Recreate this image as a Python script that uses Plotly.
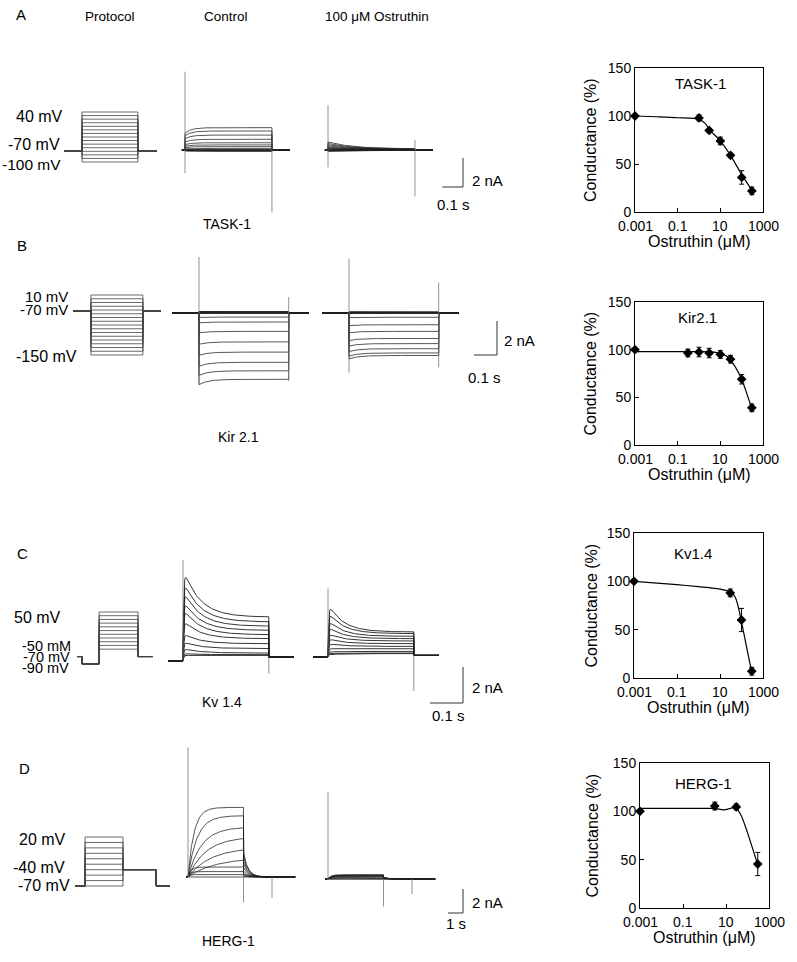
import numpy as np
import plotly.graph_objects as go

W, H = 797, 962
FONT = "Liberation Sans, Arial, sans-serif"

# ---------------- dose-response data ----------------
TASK1_CONC = [0.001, 1, 3, 10, 30, 100, 300]
TASK1_COND = [100, 98, 85, 74, 59, 36, 22]
TASK1_ERR = [0, 3, 2, 4, 2, 7, 4]
TASK1_FIT_CONC = [0.001, 0.01, 0.1, 1, 2, 3, 10, 30, 100, 300]
TASK1_FIT_COND = [100, 99.2, 98.2, 96.5, 92, 86, 74, 59, 39, 23]

KIR_CONC = [0.001, 0.3, 1, 3, 10, 30, 100, 300]
KIR_COND = [100, 96.5, 97.5, 96.5, 95, 90, 69, 39]
KIR_ERR = [0, 4, 5, 5, 4, 4, 5, 4]
KIR_FIT_CONC = [0.001, 0.1, 1, 5, 10, 20, 50, 100, 200, 300]
KIR_FIT_COND = [98, 98, 98, 97.5, 96, 93, 82, 69, 50, 38]

KV_CONC = [0.001, 30, 100, 300]
KV_COND = [100, 88, 60, 7]
KV_ERR = [0, 4, 12, 4]
KV_FIT_CONC = [0.001, 0.1, 1, 10, 30, 50, 70, 100, 200, 300]
KV_FIT_COND = [100, 96.5, 94.5, 92, 89, 84, 74, 58, 25, 6]

HERG_CONC = [0.001, 3, 30, 300]
HERG_COND = [100, 105.5, 104.5, 45.5]
HERG_ERR = [0, 4, 3, 12]
HERG_FIT_CONC = [0.001, 0.1, 1, 3, 8, 20, 30, 50, 100, 200, 300]
HERG_FIT_COND = [103, 103, 103, 103, 101.5, 103.5, 103, 96, 78, 57, 45]

X_TICKS = [0.001, 0.1, 10, 1000]
X_TICK_TEXT = ["0.001", "0.1", "10", "1000"]
Y_TICKS = [0, 50, 100, 150]

# ---------------- current-trace data ----------------
# TASK-1: steps -100..40 mV from -70 mV
A_V = [40, 30, 20, 10, 0, -10, -20, -30, -40, -50, -60, -70, -80, -90, -100]
A_CTRL_SS = [1.54, 1.31, 1.03, 0.74, 0.5, 0.35, 0.23, 0.11, 0.05, 0.02, 0.01, 0.0, -0.03, -0.06, -0.1]
A_OST_INIT = [0.55, 0.45, 0.36, 0.28, 0.2, 0.14, 0.1, 0.06, 0.03, 0.02, 0.01, 0.0, -0.03, -0.06, -0.1]
A_OST_SS = [0.08, 0.06, 0.05, 0.04, 0.03, 0.02, 0.01, 0.01, 0.0, 0.0, 0.0, 0.0, -0.01, -0.02, -0.03]
# capacitive spikes: [onset low, onset high, offset low, offset high] (nA)
A_CTRL_SPIKE = [-1.6, 5.4, -4.3, 0.7]
A_OST_SPIKE = [-1.2, 3.1, -3.2, 0.7]

# Kir2.1: steps 10..-150 mV
B_V = [10, 0, -10, -20, -30, -40, -50, -60, -70, -80, -90, -100, -110, -120, -130, -140, -150]
B_CTRL_SS = [0.08, 0.07, 0.06, 0.05, 0.04, 0.03, 0.02, 0.01, 0.0, -0.24, -0.53, -1.08, -1.7, -2.3, -2.9, -3.4, -3.9]
B_OST_SS = [0.06, 0.05, 0.05, 0.04, 0.03, 0.02, 0.02, 0.01, 0.0, -0.25, -0.69, -1.08, -1.5, -1.8, -2.1, -2.35, -2.5]
B_CTRL_SPIKE = [-4.2, 3.3, -4.0, 0.94]
B_OST_SPIKE = [-3.5, 3.2, -3.2, 1.8]

# Kv1.4: steps -50..50 mV after a -90 mV prepulse
C_V = [50, 40, 30, 20, 10, 0, -10, -20, -30, -40, -50]
C_CTRL_PEAK = [5.13, 4.48, 3.93, 3.37, 2.9, 2.26, 1.52, 1.06, 0.69, 0.41, 0.31]
C_CTRL_SS = [2.44, 2.17, 1.93, 1.7, 1.46, 1.24, 0.96, 0.69, 0.44, 0.35, 0.31]
C_OST_PEAK = [2.96, 2.5, 2.04, 1.67, 1.3, 1.02, 0.74, 0.46, 0.28, 0.19, 0.13]
C_OST_SS = [1.39, 1.3, 1.15, 1.02, 0.89, 0.74, 0.59, 0.46, 0.31, 0.22, 0.19]
C_CTRL_POST = 0.22
C_OST_POST = 0.09
C_CTRL_SPIKE = [0.0, 5.6, -0.7, 0.2]
C_OST_SPIKE = [0.0, 3.8, -1.9, 0.1]

# HERG: steps -70..20 mV, tail at -40 mV
D_V = [20, 10, 0, -10, -20, -30, -40, -50, -60, -70]
D_CTRL_END = [5.8, 5.1, 4.1, 3.2, 2.25, 1.4, 0.83, 0.45, 0.2, 0.0]
D_CTRL_TAU = [0.4, 0.6, 0.9, 1.2, 1.5, 1.8, 0.2, 0.15, 0.1, 0.1]
D_OST_END = [0.35, 0.33, 0.3, 0.27, 0.23, 0.19, 0.14, 0.09, 0.05, 0.0]
D_CTRL_SPIKE = [10.8, -2.1, -1.75]   # onset up, step-end down, final-step down
D_OST_SPIKE = [7.25, -2.3, -1.25]

SCALE_A = [0.1, 2]   # s, nA
SCALE_B = [0.1, 2]
SCALE_C = [0.1, 2]
SCALE_D = [1, 2]

TRACE_COLOR = "#1e1e1e"
SPIKE_COLOR = "#777777"

fig = go.Figure()
_n = [0]


def new_axes(box, xr, yr, xtype="linear", xextra=None, yextra=None):
    _n[0] += 1
    n = _n[0]
    xl, xrp, yt, yb = box
    xref = "x" if n == 1 else f"x{n}"
    yref = "y" if n == 1 else f"y{n}"
    xa = dict(domain=[xl / W, xrp / W], range=xr, anchor=yref, type=xtype, automargin=False,
              visible=False, fixedrange=True, showgrid=False, zeroline=False)
    ya = dict(domain=[1 - yb / H, 1 - yt / H], range=yr, anchor=xref, automargin=False,
              visible=False, fixedrange=True, showgrid=False, zeroline=False)
    if xextra:
        xa.update(xextra)
    if yextra:
        ya.update(yextra)
    fig.update_layout(**{("xaxis" if n == 1 else f"xaxis{n}"): xa,
                         ("yaxis" if n == 1 else f"yaxis{n}"): ya})
    return xref, yref


def trace_panel(box, origin, pps, ppn):
    xl, xr, yt, yb = box
    x0, y0 = origin
    return new_axes(box, [(xl - x0) / pps, (xr - x0) / pps], [(y0 - yb) / ppn, (y0 - yt) / ppn])


def proto_panel(box, x0, pps, ref1, ref2):
    xl, xr, yt, yb = box
    (v1, p1), (v2, p2) = ref1, ref2
    ppmv = (p2 - p1) / (v1 - v2)
    vtop = v1 + (p1 - yt) / ppmv
    vbot = v1 - (yb - p1) / ppmv
    return new_axes(box, [(xl - x0) / pps, (xr - x0) / pps], [vbot, vtop])


def grid(t0, t1, fast):
    f = min(fast, (t1 - t0) / 2)
    return np.concatenate([t0 + np.linspace(0, f, 30), np.linspace(t0 + f, t1, 70)[1:]])


def add_lines(sweeps, ax, color=TRACE_COLOR, width=0.75):
    xs, ys = [], []
    for t, i in sweeps:
        xs += [float(v) for v in t] + [None]
        ys += [float(v) for v in i] + [None]
    fig.add_trace(go.Scatter(x=xs, y=ys, xaxis=ax[0], yaxis=ax[1], mode="lines",
                             line=dict(color=color, width=width), hoverinfo="skip",
                             showlegend=False))


def add_spikes(ax, edges):
    sw = [([t, t], [lo, hi]) for t, lo, hi in edges]
    add_lines(sw, ax, color=SPIKE_COLOR, width=0.8)


def label(text, px, py, size=14, anchor="center", angle=0):
    fig.add_annotation(text=text, x=px / W, y=1 - py / H, xref="paper", yref="paper",
                       showarrow=False, xanchor=anchor, yanchor="middle", textangle=angle,
                       font=dict(family=FONT, size=size, color="black"))


def scale_bar(corner, pps, ppn, sc):
    cx, cy = corner
    ax = trace_panel((cx - 60, cx + 10, cy - 60, cy + 10), corner, pps, ppn)
    fig.add_trace(go.Scatter(x=[0, 0, -sc[0]], y=[sc[1], 0, 0], xaxis=ax[0], yaxis=ax[1],
                             mode="lines", line=dict(color="#333", width=1),
                             hoverinfo="skip", showlegend=False))


# ---------------- protocols ----------------
def protocol(ax, segs, levels, step_index, color="#444"):
    sweeps = []
    for v in levels:
        t, y, tt = [], [], 0.0
        for k, (dur, lev) in enumerate(segs):
            val = v if k == step_index else lev
            t += [tt, tt + dur]
            y += [val, val]
            tt += dur
        sweeps.append((t, y))
    add_lines(sweeps, ax, color=color, width=0.8)


axA = proto_panel((55, 165, 95, 175), 64, 207, (40, 112), (-100, 162))
protocol(axA, [(0.087, -70), (0.27, None), (0.092, -70)], A_V, 1)
# B: holding line drawn at the level where the original draws it
B_HOLD_DRAWN = -33
axB = proto_panel((65, 170, 280, 370), 73, 230, (10, 295), (-150, 355))
protocol(axB, [(0.078, B_HOLD_DRAWN), (0.226, None), (0.078, B_HOLD_DRAWN)], B_V, 1)
axC = proto_panel((70, 160, 600, 675), 77, 330, (50, 612), (-90, 664))
protocol(axC, [(0.015, -70), (0.052, -90), (0.118, None), (0.045, -70)], C_V, 2)
axD = proto_panel((70, 175, 825, 895), 75, 15, (20, 837), (-70, 886))
protocol(axD, [(0.67, -70), (2.53, None), (2.2, -40), (0.93, -70)], D_V, 1)

# ---------------- A: TASK-1 traces ----------------
A_PRE, A_STEP, A_POST = 0.015, 0.42, 0.087


def task_sweeps(ss_list, start_list, tau):
    out = []
    for ss, st in zip(ss_list, start_list):
        ts = grid(0, A_STEP, 0.04)
        i_s = ss + (st - ss) * np.exp(-ts / tau)
        ta = np.array([A_STEP, A_STEP + A_POST])
        out.append((np.concatenate([[-A_PRE, 0], ts, ta]), np.concatenate([[0, 0], i_s, [0, 0]])))
    return out


ax = trace_panel((150, 305, 50, 235), (185, 150), 207, 14.5)
add_lines(task_sweeps(A_CTRL_SS, [0.75 * s for s in A_CTRL_SS], 0.03), ax)
add_spikes(ax, [(0, A_CTRL_SPIKE[0], A_CTRL_SPIKE[1]), (A_STEP, A_CTRL_SPIKE[2], A_CTRL_SPIKE[3])])
ax = trace_panel((305, 445, 50, 235), (328, 150), 207, 14.5)
add_lines(task_sweeps(A_OST_SS, A_OST_INIT, 0.12), ax)
add_spikes(ax, [(0, A_OST_SPIKE[0], A_OST_SPIKE[1]), (A_STEP, A_OST_SPIKE[2], A_OST_SPIKE[3])])
scale_bar((463, 187), 207, 14.5, SCALE_A)

# ---------------- B: Kir2.1 traces ----------------
B_PRE, B_STEP, B_POST = 0.117, 0.39, 0.087


def kir_sweeps(ss_list):
    out = []
    for ss in ss_list:
        ts = grid(0, B_STEP, 0.05)
        i_s = ss * (1 + 0.08 * np.exp(-ts / 0.04))
        ta = np.array([B_STEP, B_STEP + B_POST])
        out.append((np.concatenate([[-B_PRE, 0], ts, ta]), np.concatenate([[0, 0], i_s, [0, 0]])))
    return out


ax = trace_panel((160, 318, 240, 400), (199, 313), 230, 17)
add_lines(kir_sweeps(B_CTRL_SS), ax)
add_spikes(ax, [(0, B_CTRL_SPIKE[0], B_CTRL_SPIKE[1]), (B_STEP, B_CTRL_SPIKE[2], B_CTRL_SPIKE[3])])
ax = trace_panel((318, 475, 240, 400), (349, 313), 230, 17)
add_lines(kir_sweeps(B_OST_SS), ax)
add_spikes(ax, [(0, B_OST_SPIKE[0], B_OST_SPIKE[1]), (B_STEP, B_OST_SPIKE[2], B_OST_SPIKE[3])])
scale_bar((497, 355), 230, 17, SCALE_B)

# ---------------- C: Kv1.4 traces ----------------
C_PRE, C_STEP, C_POST = 0.045, 0.26, 0.076


def kv_sweeps(pk_list, ss_list, tau, post):
    out = []
    for pk, ss in zip(pk_list, ss_list):
        ts = grid(0, C_STEP, 0.03)
        act = 1 - np.exp(-ts / 0.002)
        i_s = (ss + (pk - ss) * np.exp(-ts / tau)) * act
        ta = np.array([C_STEP, C_STEP + C_POST])
        out.append((np.concatenate([[-C_PRE, 0], ts, ta]),
                    np.concatenate([[0, 0], i_s, [post, post]])))
    return out


ax = trace_panel((150, 305, 540, 700), (183, 661), 330, 18)
add_lines(kv_sweeps(C_CTRL_PEAK, C_CTRL_SS, 0.05, C_CTRL_POST), ax, width=0.9)
add_spikes(ax, [(0, C_CTRL_SPIKE[0], C_CTRL_SPIKE[1]), (C_STEP, C_CTRL_SPIKE[2], C_CTRL_SPIKE[3])])
ax = trace_panel((300, 450, 540, 700), (328, 657), 330, 18)
add_lines(kv_sweeps(C_OST_PEAK, C_OST_SS, 0.045, C_OST_POST), ax, width=0.9)
add_spikes(ax, [(0, C_OST_SPIKE[0], C_OST_SPIKE[1]), (C_STEP, C_OST_SPIKE[2], C_OST_SPIKE[3])])
scale_bar((463, 703), 330, 18, SCALE_C)

# ---------------- D: HERG traces ----------------
D_STEP, D_TAIL, D_FINAL = 3.7, 1.9, 1.55


def herg_sweeps(end_list, tau_list, pre):
    out = []
    for ie, tau in zip(end_list, tau_list):
        ts = grid(0, D_STEP, 0.3)
        i_s = ie * (1 - np.exp(-ts / tau)) / (1 - np.exp(-D_STEP / tau))
        t1 = D_STEP + D_TAIL
        ta = grid(D_STEP, t1, 0.5)
        i_a = 0.35 * ie * np.exp(-(ta - D_STEP) / 0.3)
        tf = np.array([t1, t1 + D_FINAL])
        out.append((np.concatenate([[-pre, 0], ts, ta, tf]),
                    np.concatenate([[0, 0], i_s, i_a, [0, 0]])))
    return out


def herg_spikes(ax, sp):
    add_spikes(ax, [(0, 0, sp[0]), (D_STEP, sp[1], 0), (D_STEP + D_TAIL, sp[2], 0)])


ax = trace_panel((170, 310, 735, 925), (188, 877), 15, 12)
add_lines(herg_sweeps(D_CTRL_END, D_CTRL_TAU, 0.13), ax)
herg_spikes(ax, D_CTRL_SPIKE)
ax = trace_panel((310, 445, 735, 925), (328, 879), 15, 12)
add_lines(herg_sweeps(D_OST_END, [0.2] * len(D_OST_END), 0.2), ax)
herg_spikes(ax, D_OST_SPIKE)
scale_bar((463, 913), 15, 12, SCALE_D)


# ---------------- dose-response panels ----------------
def dose_panel(box, conc, cond, err, fit_x, fit_y, title, title_xy, ytitle_x):
    common = dict(showline=True, linecolor="black", linewidth=1, mirror=True, ticks="inside",
                  ticklen=4, tickcolor="black", tickfont=dict(family=FONT, size=14, color="black"),
                  visible=True, showgrid=False, zeroline=False)
    xe = dict(common, tickvals=X_TICKS, showticklabels=False)
    ye = dict(common, tickvals=Y_TICKS)
    ax = new_axes(box, [-3, 3], [0, 150], xtype="log", xextra=xe, yextra=ye)
    fig.add_trace(go.Scatter(x=fit_x, y=fit_y, xaxis=ax[0], yaxis=ax[1], mode="lines",
                             line=dict(color="black", width=1.2, shape="spline", smoothing=0.8),
                             hoverinfo="skip", showlegend=False, cliponaxis=False))
    fig.add_trace(go.Scatter(x=conc, y=cond, xaxis=ax[0], yaxis=ax[1], mode="markers",
                             marker=dict(symbol="diamond", size=7.5, color="black"),
                             error_y=dict(type="data", array=err, color="black", thickness=1, width=2.5),
                             hoverinfo="skip", showlegend=False, cliponaxis=False))
    xl, xr, yt, yb = box
    for v, txt in zip(X_TICKS, X_TICK_TEXT):
        fig.add_annotation(text=txt, x=float(np.log10(v)), xref=ax[0], y=1 - (yb + 14) / H,
                           yref="paper", showarrow=False, xanchor="center", yanchor="middle",
                           font=dict(family=FONT, size=14, color="black"))
    label(title, title_xy[0], title_xy[1], size=15)
    label("Conductance (%)", ytitle_x, (yt + yb) / 2, size=16, angle=-90)
    label("Ostruthin (\u03bcM)", (xl + xr) / 2, yb + 29, size=16)


dose_panel((635, 763, 68, 212), TASK1_CONC, TASK1_COND, TASK1_ERR, TASK1_FIT_CONC, TASK1_FIT_COND,
           "TASK-1", (700, 83), 590)
dose_panel((635, 763, 302, 445), KIR_CONC, KIR_COND, KIR_ERR, KIR_FIT_CONC, KIR_FIT_COND,
           "Kir2.1", (697, 317), 590)
dose_panel((634, 763, 533, 678), KV_CONC, KV_COND, KV_ERR, KV_FIT_CONC, KV_FIT_COND,
           "Kv1.4", (693, 553), 591)
dose_panel((640, 769, 763, 908), HERG_CONC, HERG_COND, HERG_ERR, HERG_FIT_CONC, HERG_FIT_COND,
           "HERG-1", (703, 783), 592)

# ---------------- text ----------------
label("A", 14, 14, 15, "left")
label("Protocol", 110, 16, 13.5)
label("Control", 226, 16, 13.5)
label("100 \u03bcM Ostruthin", 377, 16, 13.5)
label("40 mV", 65, 117, 16, "right")
label("-70 mV", 62, 144, 16, "right")
label("-100 mV", 63, 165, 15.5, "right")
label("TASK-1", 227, 224, 14)
label("2 nA", 470, 180, 15, "left")
label("0.1 s", 453, 204, 15)

label("B", 15, 245, 15, "left")
label("10 mV", 70, 296, 15, "right")
label("-70 mV", 70, 309, 15, "right")
label("-150 mV", 79, 356, 16, "right")
label("Kir 2.1", 238, 437, 14)
label("2 nA", 502, 340, 15, "left")
label("0.1 s", 485, 378, 15)

label("C", 15, 553, 15, "left")
label("50 mV", 63, 617, 16, "right")
label("-50 mM", 73, 646, 14.5, "right")
label("-70 mV", 72, 657, 14.5, "right")
label("-90 mV", 71, 668, 14.5, "right")
label("Kv 1.4", 222, 702, 14)
label("2 nA", 470, 687, 15, "left")
label("0.1 s", 448, 715, 15)

label("D", 17, 768, 15, "left")
label("20 mV", 68, 839, 16, "right")
label("-40 mV", 67, 867, 16, "right")
label("-70 mV", 72, 885, 16, "right")
label("HERG-1", 228, 941, 14)
label("2 nA", 470, 902, 15, "left")
label("1 s", 456, 923, 15)

fig.update_layout(width=W, height=H, margin=dict(l=0, r=0, t=0, b=0, pad=0, autoexpand=False),
                  paper_bgcolor="white", plot_bgcolor="rgba(0,0,0,0)", showlegend=False,
                  font=dict(family=FONT, color="black"))

fig.write_html("out.html", config={"displayModeBar": False, "staticPlot": True},
               post_script="document.body.style.margin='0px';document.body.style.padding='0px';"
                           "document.documentElement.style.overflow='hidden';")
